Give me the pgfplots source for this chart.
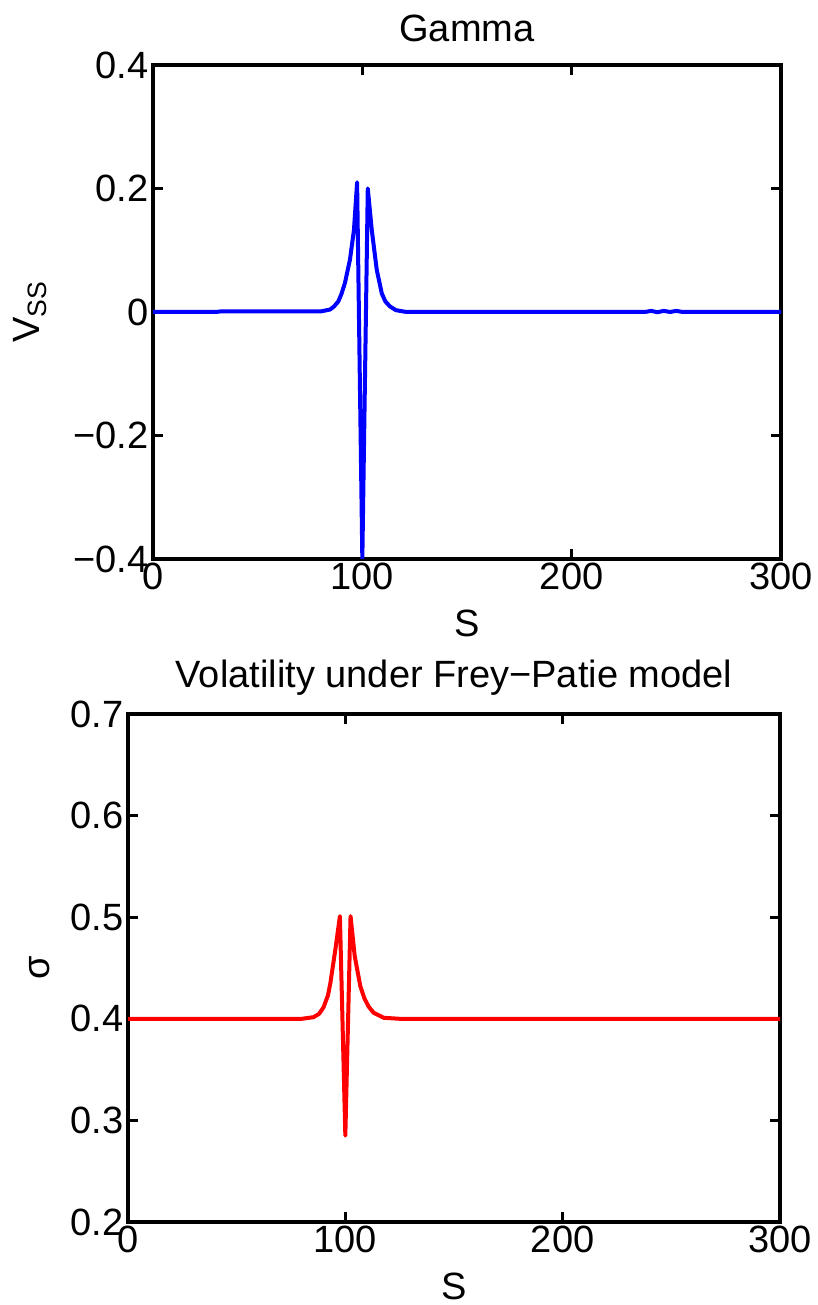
\documentclass[border=0pt]{standalone}
\usepackage{fontspec}
\setmainfont{Liberation Sans}
\usepackage{pgfplots}
\pgfplotsset{compat=1.18}
\newcommand{\mf}{\fontsize{19}{22}\selectfont}
\begin{document}
\begin{tikzpicture}
\path[use as bounding box] (0,0) rectangle (409pt,652.5pt);
\pgfplotsset{
  every axis/.append style={
    scale only axis,
    axis line style={line width=2pt,black},
    tick style={line width=1.5pt,black},
    major tick length=5pt,
    tick align=inside,
    xtick={0,100,200,300},
    xmin=0,xmax=300,
    tick label style={font=\mf},
    label style={font=\mf},
    title style={font=\mf, yshift=2pt},
    xticklabel style={inner sep=2pt},
    yticklabel style={inner sep=2pt},
    /pgf/number format/assume math mode=true,
    xlabel={S},
    xlabel style={at={(axis description cs:0.5,0)}, anchor=center, yshift=-32pt},
    clip=true,
  }
}
\begin{axis}[
  at={(76.5pt,373pt)}, anchor=south west,
  width=314pt, height=247pt,
  ymin=-0.4, ymax=0.4,
  ytick={-0.4,-0.2,0,0.2,0.4},
  yticklabels={−0.4,−0.2,0,0.2,0.4},
  title={Gamma},
  ylabel={V\textsubscript{SS}},
  ylabel style={at={(axis description cs:-0.196,0.5)}, anchor=center},
]
\addplot[blue, line width=2pt, line join=round] coordinates {
(0,0) (30,0) (32,0.0008) (80,0.0008) (84.6,0.004) (86.5,0.009) (88.5,0.017) (90,0.029) (91.7,0.047)
(94.1,0.085) (96,0.133) (97.5,0.210) (100,-0.40) (102.6,0.200) (104.5,0.133)
(106.9,0.068) (109.3,0.030) (111,0.017) (113.2,0.009) (116,0.003) (121,0)
(235,0) (238,0.0018) (241,-0.0004) (244,0.0018) (247,0) (250,0.0018) (253,0) (300,0)
};
\end{axis}
\begin{axis}[
  at={(64pt,41.5pt)}, anchor=south west,
  width=326pt, height=254pt,
  ymin=0.2, ymax=0.7,
  ytick={0.2,0.3,0.4,0.5,0.6,0.7},
  yticklabels={0.2,0.3,0.4,0.5,0.6,0.7},
  title={Volatility under Frey−Patie model},
  title style={yshift=-2pt},
  ylabel={σ},
  ylabel style={at={(axis description cs:-0.135,0.5)}, anchor=center},
]
\addplot[red, line width=2pt, line join=round] coordinates {
(0,0.4) (80,0.4) (85.4,0.4016) (88,0.405) (90,0.4115) (92,0.423) (93.1,0.435)
(95.4,0.468) (97.5,0.501) (100,0.285) (102.4,0.501) (104.3,0.462) (106.9,0.432)
(108.8,0.42) (110.7,0.412) (113,0.406) (117.6,0.401) (125,0.4) (300,0.4)
};
\end{axis}
\end{tikzpicture}
\end{document}
